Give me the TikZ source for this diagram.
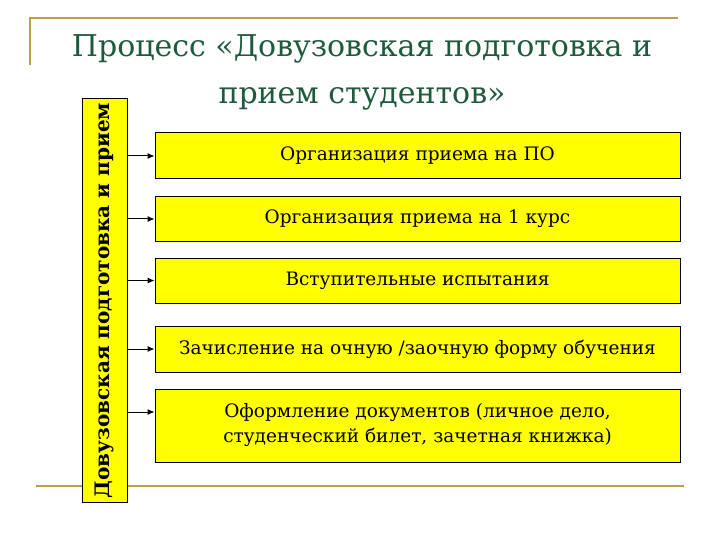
\documentclass[tikz,border=0pt]{standalone}
\usepackage{fontspec}
\setmainfont{DejaVu Serif}
\usetikzlibrary{arrows.meta}
\definecolor{gold}{HTML}{B8A050}
\definecolor{ttl}{HTML}{1E5A3C}
\definecolor{yel}{HTML}{FFFF00}
\tikzset{
 deco/.style={gold,line width=2.2pt},
 pbox/.style={draw=black,line width=1pt,fill=yel,minimum width=525pt,align=center,font=\fontsize{18.5}{25}\selectfont,inner sep=0pt},
 conn/.style={-{Latex[length=7pt,width=6pt]},line width=1pt}
}
\begin{document}
\begin{tikzpicture}[x=1pt,y=-1pt]
\useasboundingbox (0,0) rectangle (720,540);
\draw[deco] (30,65) -- (30,18) -- (678,18);
\draw[deco] (36,486) -- (684,486);
\node[text=ttl,align=center,font=\fontsize{30}{47}\selectfont] (title) at (362,72) {Процесс «Довузовская подготовка и\\прием студентов»};
\node[draw=black,line width=1pt,fill=yel,minimum width=403pt,minimum height=45pt,inner sep=0pt,rotate=90,font=\bfseries\fontsize{20}{24}\selectfont] (bar) at (104.5,300.5) {Довузовская подготовка и прием};
\node[pbox,minimum height=46pt] (b1) at (417.5,156) {Организация приема на ПО};
\node[pbox,minimum height=44pt] (b2) at (417.5,219) {Организация приема на 1 курс};
\node[pbox,minimum height=45pt] (b3) at (417.5,280.5) {Вступительные испытания};
\node[pbox,minimum height=46pt] (b4) at (417.5,349) {Зачисление на очную /заочную форму обучения};
\node[pbox,minimum height=73pt] (b5) at (417.5,425.5) {Оформление документов (личное дело,\\студенческий билет, зачетная книжка)};
\foreach \b in {b1,b2,b3,b4}{\draw[conn] (bar.south |- \b.west) -- (\b.west);}
\draw[conn] (bar.south |- 0,412) -- (b5.west |- 0,412);
\end{tikzpicture}
\end{document}
